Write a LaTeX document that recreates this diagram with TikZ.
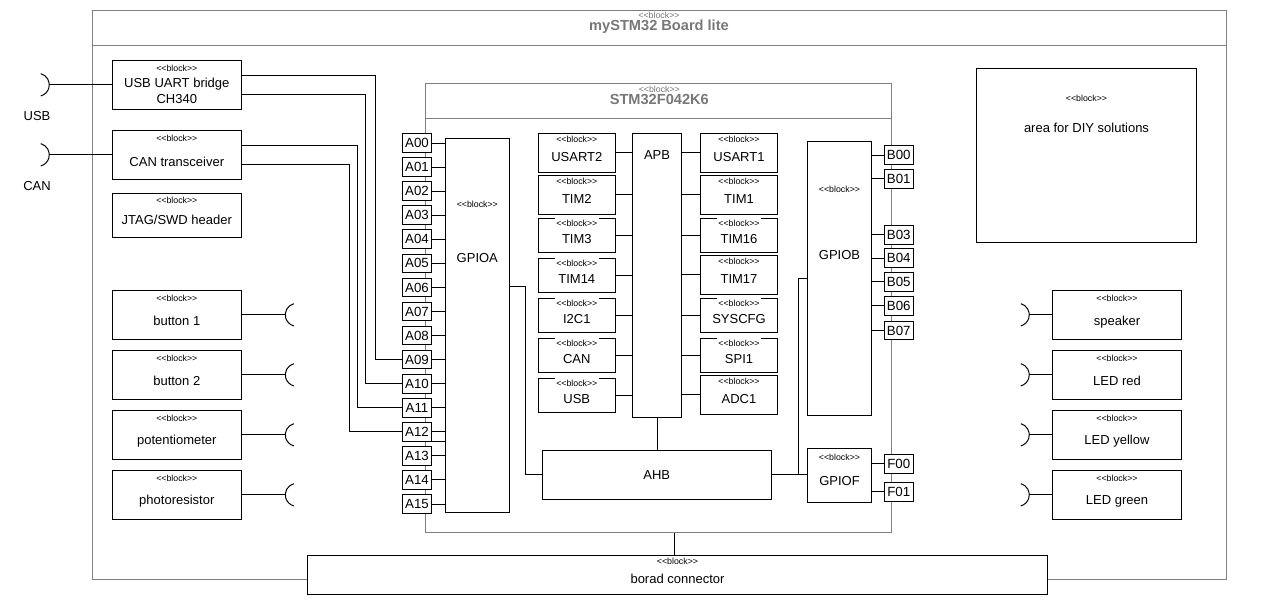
\documentclass[tikz,border=0pt]{standalone}
\usepackage{fontspec}
\setmainfont{Liberation Sans}
\usetikzlibrary{calc}
\definecolor{frame}{HTML}{808080}
\definecolor{ttlc}{HTML}{787878}
\tikzset{
  box/.style={draw, fill=white, line width=1pt, inner sep=0pt},
  st/.style={inner sep=0pt, font=\fontsize{8.8}{10}\selectfont},
  stc/.style={st, fill=white, inner xsep=1.5pt, inner ysep=2pt},
  lbl/.style={inner sep=0pt, align=center, font=\fontsize{13}{16}\selectfont},
  pin/.style={draw, fill=white, line width=1pt, inner sep=0pt, minimum width=29.4pt, minimum height=18.7pt, font=\fontsize{13.3}{15}\selectfont},
  wire/.style={line width=1pt},
  frm/.style={draw=frame, line width=1pt, inner sep=0pt, anchor=north west},
  ttl/.style={text=ttlc, font=\bfseries\fontsize{14.6}{16}\selectfont, inner sep=0pt},
  ttlst/.style={text=ttlc, inner sep=0pt, font=\fontsize{8.8}{10}\selectfont},
}
% #1 stereo style, #2 name, #3 x1, #4 y1, #5 x2, #6 y2, #7 stereo dy, #8 text dy, #9 text
\newcommand\blk[9][st]{%
  \node[box, minimum width={(#5-#3)*1pt}, minimum height={(#6-#4)*1pt}] (#2) at ({(#3+#5)/2},{(#4+#6)/2}) {};
  \node[#1] (#2-st) at ({(#3+#5)/2},{#4+#7}) {<{}<block>{}>};
  \node[lbl] (#2-tx) at ({(#3+#5)/2},{#4+#8}) {#9};}
\newcommand\sockR[1]{\draw[wire] ([xshift=-11.5pt]#1) ++(75:11.5pt) arc[start angle=75,end angle=-75,radius=11.5pt];}
\newcommand\sockL[1]{\draw[wire] ([xshift=11.5pt]#1) ++(105:11.5pt) arc[start angle=105,end angle=255,radius=11.5pt];}

\begin{document}
\begin{tikzpicture}[x=1pt,y=-1pt]
\useasboundingbox[fill=white] (0,0) rectangle (1267,613);

% board frame
\node[frm, minimum width=1134pt, minimum height=569pt] (board) at (92.3,10.3) {};
\draw[frame, line width=1pt] ([yshift=-35pt]board.north west) -- ([yshift=-35pt]board.north east);
\node[ttlst] (board-st) at (659,15.5) {<{}<block>{}>};
\node[ttl] (board-tx) at (659,26.5) {mySTM32 Board lite};

% board connector
\blk{bconn}{307.3}{555.3}{1047.7}{594.3}{6}{24}{borad connector}

% STM32 frame
\node[frm, minimum width=466pt, minimum height=449pt] (stm) at (425.3,83.3) {};
\draw[frame, line width=1pt] ([yshift=-35pt]stm.north west) -- ([yshift=-35pt]stm.north east);
\node[ttlst] (stm-st) at (659.3,89) {<{}<block>{}>};
\node[ttl] (stm-tx) at (659.3,99) {STM32F042K6};
\draw[wire] ([xshift=-3.2pt]bconn.north) -- ([xshift=-3.2pt]bconn.north |- stm.south);

% left blocks
\blk{usbuart}{112.3}{60.3}{241.3}{109.3}{8.4}{30.7}{USB UART bridge\\CH340}
\blk{cantr}{112.3}{130.3}{241.3}{179.3}{8}{31.4}{CAN transceiver}
\blk{jtag}{112.3}{193.3}{241.3}{237.3}{7}{27}{JTAG/SWD header}
\blk{btn1}{112.3}{290.3}{241.3}{339.3}{8.4}{31}{button 1}
\blk{btn2}{112.3}{350.3}{241.3}{399.3}{8.4}{31}{button 2}
\blk{poti}{112.3}{410.3}{241.3}{459.3}{8.4}{31}{potentiometer}
\blk{photo}{112.3}{470.3}{241.3}{519.3}{8.4}{31}{photoresistor}

% right blocks
\blk{diy}{976.3}{68.3}{1196.7}{242.3}{30.4}{60}{area for DIY solutions}
\blk{speaker}{1052.3}{290.3}{1181.7}{339.3}{8.4}{31.4}{speaker}
\blk{ledr}{1052.3}{350.3}{1181.7}{399.3}{8.4}{31}{LED red}
\blk{ledy}{1052.3}{410.3}{1181.7}{459.3}{8.4}{31}{LED yellow}
\blk{ledg}{1052.3}{470.3}{1181.7}{519.3}{8.4}{31}{LED green}

% sockets
\node[lbl] (usblbl) at (37,116) {USB};
\node[lbl] (canlbl) at (37,186) {CAN};
\coordinate (usbs) at (49.3,84.8);
\coordinate (cans) at (49.3,154.8);
\sockR{usbs} \sockR{cans}
\draw[wire] (usbs) -- (usbuart.west);
\draw[wire] (cans) -- (cantr.west);
\foreach \b/\y in {btn1/314.8,btn2/374.8,poti/434.8,photo/494.8}{
  \coordinate (\b-s) at (285.3,\y);
  \sockL{\b-s}
  \draw[wire] (\b.east) -- (\b-s);
}
\foreach \b/\y in {speaker/314.8,ledr/374.8,ledy/434.8,ledg/494.8}{
  \coordinate (\b-s) at (1029.3,\y);
  \sockR{\b-s}
  \draw[wire] (\b.west) -- (\b-s);
}

% MCU internals
\blk{gpioa}{445.3}{138.3}{509.3}{512.3}{66.4}{120}{GPIOA}
\blk{gpiob}{807.3}{141}{871.7}{415.3}{48.3}{114}{GPIOB}
\blk{gpiof}{807.3}{448.3}{871.7}{502.3}{9.4}{32.7}{GPIOF}
\node[box, minimum width=49.4pt, minimum height=284pt] (apb) at (657,275.3) {};
\node[lbl] (apb-tx) at (657,155.3) {APB};
\node[box, minimum width=229pt, minimum height=49pt] (ahb) at (656.8,474.8) {};
\node[lbl] (ahb-tx) at (656.8,475.3) {AHB};

\blk{usart2}{538.3}{133.3}{615.3}{172.3}{6.4}{24}{USART2}
\blk{tim2}{538.3}{175.3}{615.3}{214.3}{6.4}{23.7}{TIM2}
\blk[stc]{tim3}{538.3}{218.3}{615.3}{252.3}{5}{21}{TIM3}
\blk[stc]{tim14}{538.3}{258.3}{615.3}{292.3}{5}{20.7}{TIM14}
\blk[stc]{i2c1}{538.3}{298.3}{615.3}{332.3}{5}{20.7}{I2C1}
\blk[stc]{can}{538.3}{338.3}{615.3}{372.3}{5}{20.7}{CAN}
\blk[stc]{usb}{538.3}{378.3}{615.3}{412.3}{5}{20.7}{USB}

\blk{usart1}{700.3}{133.3}{777.7}{172.3}{6.4}{24}{USART1}
\blk{tim1}{700.3}{175.3}{777.7}{214.3}{6.4}{23.7}{TIM1}
\blk[stc]{tim16}{700.3}{218.3}{777.7}{252.3}{5}{21}{TIM16}
\blk[stc]{tim17}{700.3}{255.3}{777.7}{294.3}{6.3}{23.7}{TIM17}
\blk[stc]{syscfg}{700.3}{298.3}{777.7}{332.3}{5}{20.7}{SYSCFG}
\blk[stc]{spi1}{700.3}{338.3}{777.7}{372.3}{5}{20.7}{SPI1}
\blk{adc1}{700.3}{375.3}{777.7}{414.3}{6.4}{23.7}{ADC1}

\foreach \p in {usart2,tim2,tim3,tim14,i2c1,can,usb}{
  \draw[wire] (\p.east) -- (\p.east -| apb.west);
}
\foreach \p in {usart1,tim1,tim16,tim17,syscfg,spi1,adc1}{
  \draw[wire] (\p.west) -- (\p.west -| apb.east);
}
\draw[wire] (apb.south) -- (apb.south |- ahb.north);
\draw[wire] ([yshift=39pt]gpioa.east) -- ++(16,0) |- (ahb.west);
\draw[wire] (ahb.east) -- (ahb.east -| gpiof.west);
\draw[wire] ([xshift=26.4pt]ahb.east) |- (gpiob.west);

% pins
\foreach \i in {0,...,15}{
  \pgfmathsetmacro\yy{143+24.07*\i}
  \node[pin] (A\i) at (417,\yy) {A\ifnum\i<10 0\fi\i};
  \draw[wire] (A\i.east) -- (A\i.east -| gpioa.west);
}
\coordinate (astub) at (431.7,441);
\draw[wire] (astub) -- (astub -| gpioa.west);
\foreach \n/\y in {00/155,01/178.7,03/234.7,04/258,05/281.7,06/305.7,07/330.5}{
  \node[pin] (B\n) at (898.8,\y) {B\n};
  \draw[wire] (B\n.west) -- (B\n.west -| gpiob.east);
}
\foreach \n/\y in {00/463.7,01/491.7}{
  \node[pin] (F\n) at (898.8,\y) {F\n};
  \draw[wire] (F\n.west) -- (F\n.west -| gpiof.east);
}

% wires to GPIOA pins
\draw[wire] ([yshift=9.5pt]usbuart.east) -- ++(134,0) |- (A9.west);
\draw[wire] ([yshift=-9.5pt]usbuart.east) -- ++(124,0) |- (A10.west);
\draw[wire] ([yshift=9.7pt]cantr.east) -- ++(116,0) |- (A11.west);
\draw[wire] ([yshift=-9.7pt]cantr.east) -- ++(108,0) |- (A12.west);
\end{tikzpicture}
\end{document}
